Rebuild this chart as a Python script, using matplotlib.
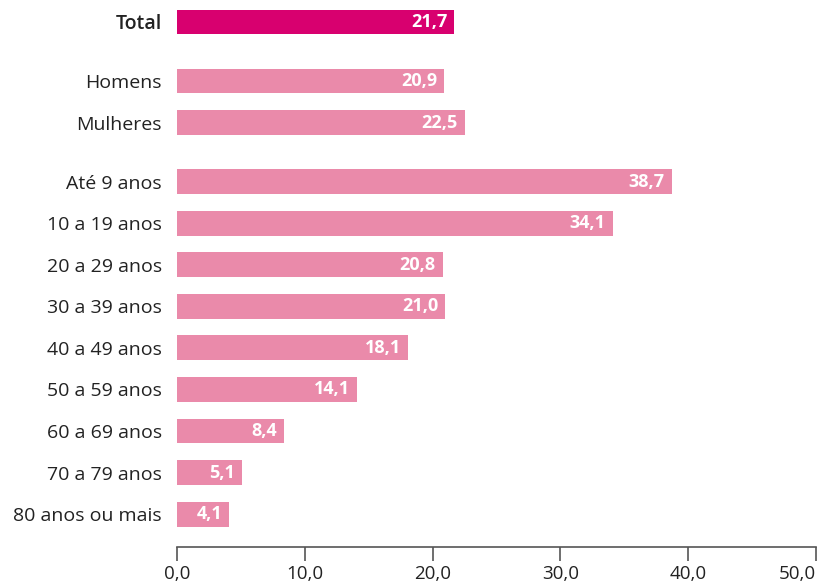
import numpy as np
import matplotlib.pyplot as plt

categorias = ["Total", "Homens", "Mulheres", "Até 9 anos", "10 a 19 anos", "20 a 29 anos",
              "30 a 39 anos", "40 a 49 anos", "50 a 59 anos", "60 a 69 anos",
              "70 a 79 anos", "80 anos ou mais"]
valores = [21.7, 20.9, 22.5, 38.7, 34.1, 20.8, 21.0, 18.1, 14.1, 8.4, 5.1, 4.1]
grupos = [0, 1, 1, 2, 2, 2, 2, 2, 2, 2, 2, 2]
x_ticks = [0, 10, 20, 30, 40, 50]

plt.rcParams["font.family"] = ["Open Sans", "DejaVu Sans"]

# posições: espaço extra entre grupos
gap_extra = 0.42
ypos = np.arange(len(categorias)) + np.array(grupos) * gap_extra

cores = ["#D8006F" if g == 0 else "#EA8AAA" for g in grupos]

fig = plt.figure(figsize=(8.32, 5.85), dpi=100)
ax = fig.add_axes([177 / 832, 1 - 547 / 585, (816 - 177) / 832, (547 - 1.2) / 585])

ax.barh(ypos, valores, height=0.6, color=cores)

for y, v in zip(ypos, valores):
    ax.text(v - 0.55, y, f"{v:.1f}".replace(".", ","), ha="right", va="center",
            color="white", fontsize=13, fontweight="bold")

ax.set_yticks(ypos)
ax.set_yticklabels(categorias, fontsize=14, color="#222222")
for lbl in ax.get_yticklabels():
    if lbl.get_text() == "Total":
        lbl.set_fontweight("semibold")
ax.tick_params(axis="y", length=0, pad=11)

ax.set_xlim(0, 50)
ax.set_ylim(ypos[-1] + 0.79, -0.5)
ax.set_xticks(x_ticks)
ax.set_xticklabels([f"{t:.1f}".replace(".", ",") for t in x_ticks], fontsize=13.5, color="#222222")
ax.tick_params(axis="x", length=10, width=1.2, color="#555555", pad=3)
ax.get_xticklabels()[-1].set_horizontalalignment("right")
ax.get_xticklabels()[-1].set_x(50.4)

for s in ["top", "right", "left"]:
    ax.spines[s].set_visible(False)
ax.spines["bottom"].set_color("#555555")
ax.spines["bottom"].set_linewidth(1.2)

fig.savefig("out.png", dpi=100)
